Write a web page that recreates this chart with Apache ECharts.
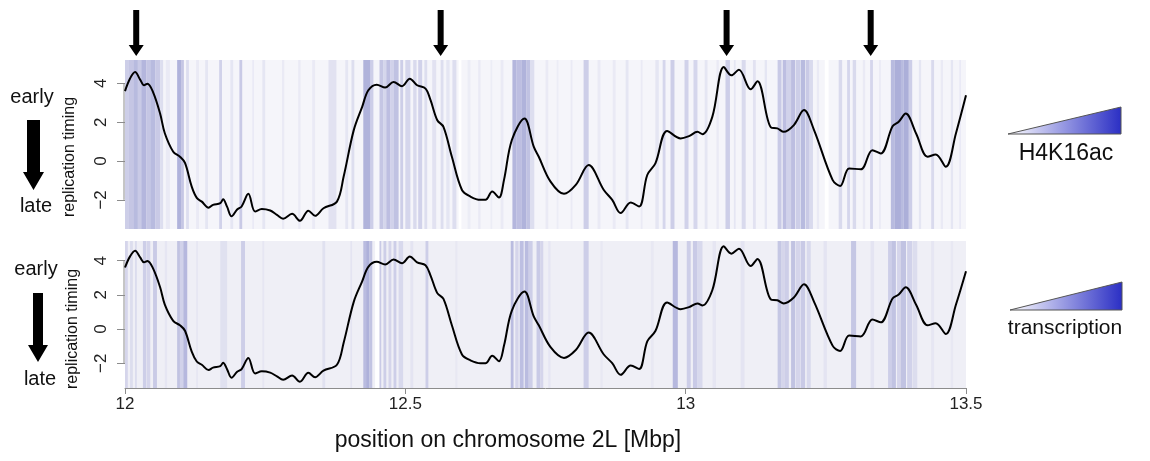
<!DOCTYPE html>
<html lang="en">
<head>
<meta charset="UTF-8">
<title>replication timing / H4K16ac / transcription</title>
<script src="https://cdn.jsdelivr.net/npm/echarts@6.0.0/dist/echarts.min.js"></script>
<style>html,body{margin:0;padding:0;background:#fff;}</style>
</head>
<body>
<div id="main" style="width:1150px;height:461px;"></div>
<script type="text/javascript">
// replication timing curve, position on 2L in Mbp
var rtPos = [12.000, 12.009, 12.018, 12.027, 12.034, 12.040, 12.050, 12.0625, 12.071, 12.086,
    12.098, 12.107, 12.119, 12.128, 12.137, 12.149, 12.157, 12.170, 12.175, 12.182,
    12.190, 12.200, 12.208, 12.220, 12.232, 12.244, 12.259, 12.271, 12.282, 12.298,
    12.312, 12.327, 12.339, 12.354, 12.378, 12.390, 12.408, 12.423, 12.434, 12.449,
    12.464, 12.479, 12.494, 12.508, 12.521, 12.536, 12.545, 12.557, 12.568, 12.583,
    12.601, 12.616, 12.634, 12.643, 12.655, 12.667, 12.676, 12.690, 12.7125, 12.729,
    12.738, 12.759, 12.783, 12.804, 12.827, 12.854, 12.869, 12.884, 12.902, 12.917,
    12.9315, 12.946, 12.967, 12.991, 13.006, 13.021, 13.030, 13.0475, 13.068, 13.0815,
    13.095, 13.116, 13.128, 13.152, 13.1635, 13.175, 13.193, 13.211, 13.229, 13.262,
    13.2755, 13.2915, 13.3125, 13.333, 13.348, 13.369, 13.380, 13.3925, 13.411, 13.4315,
    13.446, 13.464, 13.482, 13.500];
var rtVal = [3.6, 4.25, 4.58, 4.19, 3.9, 3.98, 3.55, 2.46, 1.43, 0.48,
    0.22, -0.1, -1.32, -1.9, -2.09, -2.4, -2.26, -2.17, -1.97, -2.35,
    -2.85, -2.5, -2.34, -1.69, -2.6, -2.47, -2.55, -2.77, -2.97, -2.72,
    -3.08, -2.56, -2.82, -2.43, -2.09, -0.8, 1.59, 2.79, 3.64, 3.93,
    3.78, 4.07, 3.85, 4.24, 3.9, 3.73, 3.13, 2.1, 1.76, 0.22,
    -1.49, -1.83, -2.0, -2.0, -1.57, -1.88, -0.97, 1.08, 2.19, 0.74,
    0.22, -1.06, -1.69, -1.23, -0.21, -1.49, -2.0, -2.68, -2.14, -2.34,
    -0.72, -0.12, 1.55, 1.16, 1.28, 1.5, 1.38, 2.27, 4.84, 4.41,
    4.7, 3.69, 4.1, 1.73, 1.68, 1.5, 1.85, 2.62, 1.59, -0.97,
    -1.28, -0.38, -0.43, 0.56, 0.39, 1.79, 2.02, 2.44, 1.42, 0.22,
    0.34, -0.29, 1.42, 3.38];

// marked origins (arrows above the top panel)
var arrowPos = [12.02, 12.563, 13.073, 13.33];

// signal stripes: [start Mbp, end Mbp, level]  (level -1 = empty/white)
var h4k16acStripes = [
    [12.000, 12.007, 0.5], [12.007, 12.016, 0.6], [12.016, 12.023, 0.75], [12.023, 12.029, 0.55],
    [12.029, 12.038, 0.8], [12.038, 12.045, 0.6], [12.045, 12.054, 0.75], [12.054, 12.063, 0.55],
    [12.063, 12.068, 0.3], [12.073, 12.080, 0.15], [12.093, 12.100, 0.85], [12.100, 12.105, 0.6],
    [12.109, 12.114, 0.3], [12.127, 12.132, 0.15], [12.143, 12.148, 0.2], [12.168, 12.173, 0.45],
    [12.188, 12.193, 0.2], [12.204, 12.209, 0.55], [12.227, 12.230, 0.15], [12.245, 12.250, 0.2],
    [12.280, 12.284, 0.15], [12.309, 12.313, 0.15], [12.334, 12.339, 0.15], [12.363, 12.377, 0.25],
    [12.393, 12.398, 0.2], [12.404, 12.409, 0.3], [12.425, 12.438, 0.85], [12.438, 12.443, 0.5],
    [12.454, 12.461, 0.6], [12.461, 12.466, 0.4], [12.466, 12.473, 0.7], [12.473, 12.479, 0.45],
    [12.479, 12.488, 0.65], [12.491, 12.496, 0.5], [12.500, 12.509, 0.4], [12.514, 12.520, 0.35],
    [12.523, 12.530, 0.45], [12.534, 12.539, 0.3], [12.548, 12.555, 0.25], [12.563, 12.568, 0.3],
    [12.573, 12.579, 0.2], [12.584, 12.591, 0.3], [12.595, 12.600, -1], [12.611, 12.616, 0.12],
    [12.630, 12.634, 0.15], [12.652, 12.655, 0.12], [12.670, 12.675, 0.15], [12.691, 12.698, 0.8],
    [12.698, 12.707, 0.7], [12.707, 12.716, 0.85], [12.716, 12.723, 0.65], [12.723, 12.730, 0.3],
    [12.750, 12.755, 0.15], [12.770, 12.773, 0.12], [12.795, 12.798, 0.15], [12.818, 12.827, 0.5],
    [12.843, 12.848, 0.15], [12.870, 12.875, 0.15], [12.893, 12.898, 0.2], [12.920, 12.923, 0.15],
    [12.946, 12.952, 0.2], [12.959, 12.964, 0.4], [12.973, 12.980, 0.5], [12.998, 13.005, 0.45],
    [13.014, 13.021, 0.4], [13.034, 13.039, 0.2], [13.055, 13.059, 0.15], [13.071, 13.079, 0.5],
    [13.086, 13.089, 0.2], [13.100, 13.107, 0.35], [13.120, 13.125, 0.25], [13.141, 13.145, 0.2],
    [13.164, 13.171, 0.55], [13.173, 13.180, 0.7], [13.180, 13.188, 0.45], [13.188, 13.195, 0.7],
    [13.196, 13.204, 0.5], [13.205, 13.213, 0.75], [13.214, 13.221, 0.55], [13.221, 13.227, 0.35],
    [13.234, 13.238, 0.15], [13.248, 13.255, -1], [13.273, 13.279, 0.35], [13.288, 13.293, 0.4],
    [13.298, 13.304, 0.35], [13.316, 13.320, 0.15], [13.329, 13.334, 0.4], [13.345, 13.348, 0.15],
    [13.366, 13.373, 0.75], [13.373, 13.384, 0.9], [13.384, 13.389, 0.75], [13.389, 13.398, 0.9],
    [13.398, 13.404, 0.5], [13.416, 13.420, 0.2], [13.438, 13.443, 0.35], [13.455, 13.459, 0.15],
    [13.473, 13.477, 0.2], [13.488, 13.491, 0.15]
];
var transcriptionStripes = [
    [12.000, 12.005, 0.35], [12.009, 12.014, 0.25], [12.018, 12.021, 0.3], [12.032, 12.038, 0.45],
    [12.039, 12.045, 0.35], [12.050, 12.057, 0.5], [12.071, 12.075, 0.12], [12.093, 12.098, 0.6],
    [12.098, 12.104, 0.4], [12.104, 12.111, 0.75], [12.127, 12.130, 0.12], [12.170, 12.182, 0.2],
    [12.207, 12.214, 0.45], [12.245, 12.248, 0.12], [12.352, 12.357, 0.2], [12.402, 12.405, 0.15],
    [12.425, 12.430, 0.7], [12.430, 12.436, 0.85], [12.436, 12.441, 0.6], [12.446, 12.454, -1],
    [12.454, 12.457, 0.5], [12.461, 12.466, 0.45], [12.470, 12.475, 0.35], [12.479, 12.484, 0.45],
    [12.488, 12.496, 0.3], [12.509, 12.514, 0.15], [12.536, 12.541, 0.45], [12.589, 12.593, 0.1],
    [12.688, 12.693, 0.7], [12.696, 12.702, 0.35], [12.704, 12.711, 0.65], [12.713, 12.720, 0.7],
    [12.720, 12.727, 0.45], [12.734, 12.741, 0.5], [12.741, 12.746, 0.35], [12.755, 12.759, 0.12],
    [12.818, 12.827, 0.45], [12.848, 12.852, 0.1], [12.938, 12.943, 0.1], [12.977, 12.986, 0.75],
    [13.002, 13.009, 0.45], [13.013, 13.021, 0.5], [13.021, 13.030, 0.3], [13.048, 13.054, 0.12],
    [13.098, 13.105, 0.15], [13.164, 13.171, 0.55], [13.171, 13.177, 0.35], [13.177, 13.184, 0.45],
    [13.188, 13.195, 0.6], [13.196, 13.204, 0.35], [13.205, 13.213, 0.5], [13.216, 13.223, 0.3],
    [13.246, 13.252, 0.15], [13.295, 13.304, 0.55], [13.330, 13.336, 0.15], [13.361, 13.368, 0.45],
    [13.368, 13.375, 0.6], [13.377, 13.384, 0.35], [13.384, 13.393, 0.6], [13.395, 13.404, 0.4],
    [13.405, 13.413, 0.25], [13.438, 13.443, 0.12], [13.473, 13.477, 0.1]
];

var yTicks = [-2, 0, 2, 4];
var xTicks = [12, 12.5, 13, 13.5];

var FONT = 'Liberation Sans, Arial, Helvetica, sans-serif';
var DARK = [156, 159, 210];

function mix(base, level) {
    if (level < 0) return '#ffffff';
    var c = [0, 1, 2].map(function (i) { return Math.round(base[i] + (DARK[i] - base[i]) * level); });
    return 'rgb(' + c.join(',') + ')';
}

function stripeSeries(idx, data, base) {
    return {
        type: 'custom', xAxisIndex: idx, yAxisIndex: idx, silent: true, z: 1,
        data: data,
        encode: { x: [0, 1] },
        renderItem: function (params, api) {
            var cs = params.coordSys;
            var x0 = api.coord([api.value(0), 0])[0];
            var x1 = api.coord([api.value(1), 0])[0];
            var col = mix(base, api.value(2));
            return {
                type: 'rect',
                shape: { x: x0, y: cs.y, width: Math.max(x1 - x0, 1), height: cs.height },
                style: { fill: col, opacity: 0.92 }
            };
        }
    };
}

// short R-style y axis line, only from -2 to 4
function yLineSeries(idx) {
    return {
        type: 'custom', xAxisIndex: idx, yAxisIndex: idx, silent: true, z: 2,
        data: [[12]],
        renderItem: function (params, api) {
            var cs = params.coordSys;
            var a = api.coord([12, yTicks[0]]);
            var b = api.coord([12, yTicks[yTicks.length - 1]]);
            return {
                type: 'line',
                shape: { x1: cs.x - 1, y1: a[1], x2: cs.x - 1, y2: b[1] },
                style: { stroke: '#8c8c8c', lineWidth: 1 }
            };
        }
    };
}

function rtSeries(idx) {
    return {
        type: 'line', xAxisIndex: idx, yAxisIndex: idx, z: 3,
        data: rtPos.map(function (p, i) { return [p, rtVal[i]]; }),
        smooth: 0.35, showSymbol: false, silent: true,
        lineStyle: { color: '#000', width: 2 }
    };
}

function yAxis(idx, min, max) {
    return {
        type: 'value', gridIndex: idx, min: min, max: max,
        splitLine: { show: false },
        axisLine: { show: false },
        axisTick: { show: true, customValues: yTicks, length: 8, lineStyle: { color: '#8c8c8c' } },
        axisLabel: {
            customValues: yTicks, rotate: 90, margin: 15,
            color: '#222', fontSize: 17, fontFamily: FONT,
            formatter: function (v) { return v < 0 ? '\u2212' + (-v) : String(v); }
        }
    };
}

var myChart = echarts.init(document.getElementById('main'));

var leftText = function (x, y, txt, size, rot) {
    return {
        type: 'text', x: x, y: y, rotation: rot || 0,
        style: { text: txt, fill: '#111', font: size + 'px ' + FONT, align: 'center', verticalAlign: 'middle' }
    };
};
var wedgeFill = function () {
    return new echarts.graphic.LinearGradient(0, 0, 1, 0, [
        { offset: 0, color: '#ffffff' }, { offset: 1, color: '#2a2ec4' }
    ]);
};

var option = {
    animation: false,
    backgroundColor: '#ffffff',
    grid: [
        { left: 125, width: 841, top: 60, height: 169, show: true, borderWidth: 0, backgroundColor: '#f5f5fa' },
        { left: 125, width: 841, top: 241, height: 147, show: true, borderWidth: 0, backgroundColor: '#efeff6' }
    ],
    xAxis: [
        { type: 'value', gridIndex: 0, min: 12, max: 13.5, interval: 0.5, show: false },
        {
            type: 'value', gridIndex: 1, min: 12, max: 13.5, interval: 0.5,
            splitLine: { show: false },
            axisLine: { show: true, onZero: false, lineStyle: { color: '#8c8c8c' } },
            axisTick: { show: true, length: 6, lineStyle: { color: '#8c8c8c' } },
            axisLabel: { color: '#222', fontSize: 17, fontFamily: FONT, margin: 8, showMinLabel: true, showMaxLabel: true }
        }
    ],
    yAxis: [yAxis(0, -3.5, 5.2), yAxis(1, -3.45, 5.15)],
    series: [
        stripeSeries(0, h4k16acStripes, [245, 245, 250]),
        stripeSeries(1, transcriptionStripes, [239, 239, 246]),
        yLineSeries(0),
        yLineSeries(1),
        rtSeries(0),
        rtSeries(1),
        {
            type: 'custom', xAxisIndex: 0, yAxisIndex: 0, silent: true, clip: false, z: 4,
            data: arrowPos.map(function (p) { return [p]; }),
            encode: { x: 0 },
            renderItem: function (params, api) {
                var cs = params.coordSys;
                var x = api.coord([api.value(0), 0])[0];
                var t = cs.y - 50, h = cs.y - 15, tip = cs.y - 4;
                return {
                    type: 'polygon',
                    shape: { points: [[x - 3, t], [x + 3, t], [x + 3, h], [x + 7.5, h], [x, tip], [x - 7.5, h], [x - 3, h]] },
                    style: { fill: '#000' }
                };
            }
        }
    ],
    graphic: [
        leftText(32, 97, 'early', 20),
        { type: 'polygon', shape: { points: [[27, 120], [40, 120], [40, 172], [44, 172], [33.5, 190], [23, 172], [27, 172]] }, style: { fill: '#000' } },
        leftText(36, 206, 'late', 20),
        leftText(70, 157, 'replication timing', 16, Math.PI / 2),
        leftText(36, 269, 'early', 20),
        { type: 'polygon', shape: { points: [[33, 293], [43, 293], [43, 345], [48, 345], [38, 362], [28, 345], [33, 345]] }, style: { fill: '#000' } },
        leftText(40, 379, 'late', 20),
        leftText(73, 329, 'replication timing', 16, Math.PI / 2),
        { type: 'polygon', shape: { points: [[1008, 134], [1121, 107], [1121, 134]] }, style: { fill: wedgeFill(), stroke: '#555', lineWidth: 1 } },
        leftText(1066, 154, 'H4K16ac', 23),
        { type: 'polygon', shape: { points: [[1010, 310], [1122, 282], [1122, 310]] }, style: { fill: wedgeFill(), stroke: '#555', lineWidth: 1 } },
        leftText(1065, 328, 'transcription', 21),
        leftText(508, 441, 'position on chromosome 2L [Mbp]', 23)
    ]
};

myChart.setOption(option);
</script>
</body>
</html>
